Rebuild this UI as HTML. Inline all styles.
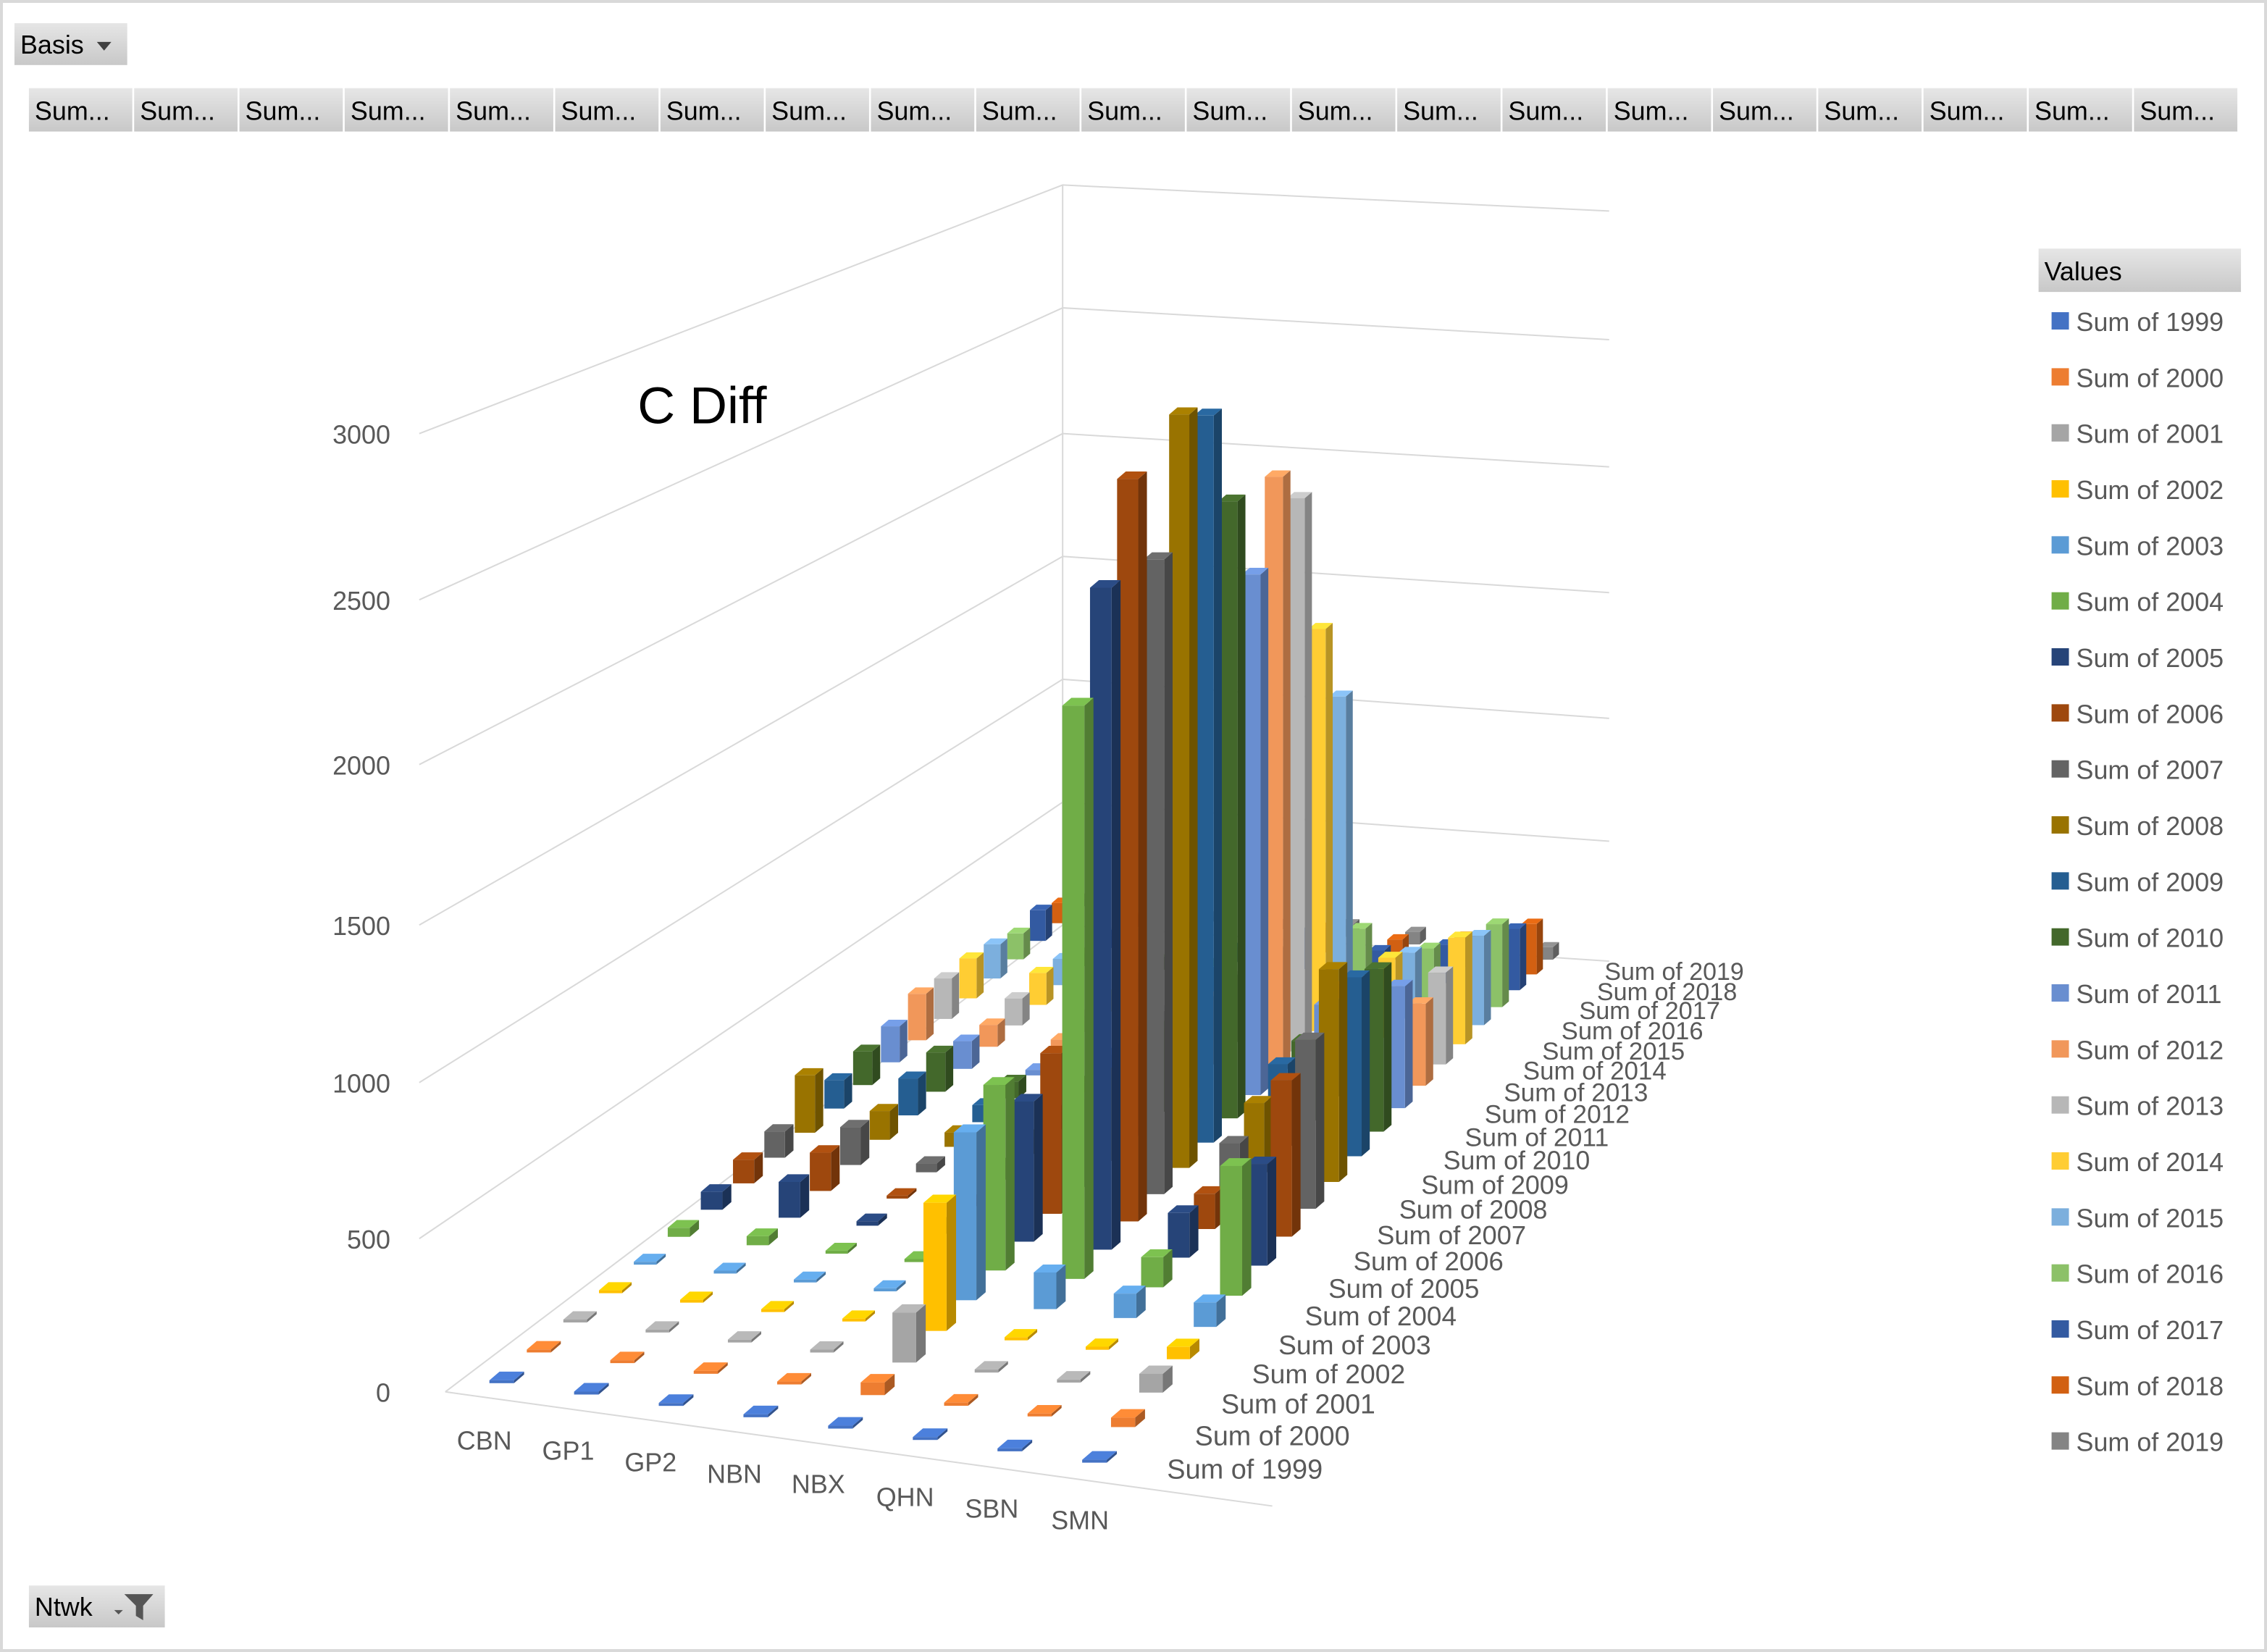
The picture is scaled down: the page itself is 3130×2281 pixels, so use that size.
<!DOCTYPE html>
<html><head><meta charset="utf-8"><style>
html,body{margin:0;padding:0;background:#fff;}
svg{display:block}
text{font-family:"Liberation Sans","DejaVu Sans",sans-serif;}
</style></head><body>
<svg id="s" width="3130" height="2281" viewBox="0 0 1568 1143" preserveAspectRatio="none" xmlns="http://www.w3.org/2000/svg">
<defs>
<linearGradient id="btn" x1="0" y1="0" x2="0" y2="1"><stop offset="0" stop-color="#e6e6e6"/><stop offset="1" stop-color="#c8c8c8"/></linearGradient>
</defs>
<rect x="0" y="0" width="1568" height="1143" fill="#fff"/>
<rect x="1" y="1" width="1566" height="1141" fill="none" stroke="#d9d9d9" stroke-width="2"/>
<g id="ui"></g>
<g id="grid" stroke="#d9d9d9" stroke-width="1" fill="none"></g>
<g id="bars"></g>
<g id="labels" fill="#595959" font-size="18"></g>
<text x="441" y="293" font-size="36" fill="#000">C Diff</text>
</svg>
<script>
var NS="http://www.w3.org/2000/svg";
function el(p,t,a,txt){var e=document.createElementNS(NS,t);for(var k in a)e.setAttribute(k,a[k]);if(txt!=null)e.textContent=txt;document.getElementById(p).appendChild(e);return e;}
el("ui","rect",{x:10,y:16,width:78,height:29,fill:"url(#btn)"});
el("ui","text",{x:14,y:37,"font-size":18,fill:"#000"},"Basis");
el("ui","path",{d:"M67 29 L77 29 L72 35 Z",fill:"#404040"});
for(var b=0;b<21;b++){var bx=20+b*72.8;el("ui","rect",{x:bx,y:61,width:71.5,height:30,fill:"url(#btn)"});el("ui","text",{x:bx+4,y:83,"font-size":18,fill:"#000"},"Sum...");}
el("ui","rect",{x:1410,y:172,width:140,height:30,fill:"url(#btn)"});
el("ui","text",{x:1414,y:194,"font-size":18,fill:"#000"},"Values");
var cols=["#4472C4","#ED7D31","#A5A5A5","#FFC000","#5B9BD5","#70AD47","#264478","#9E480E","#636363","#997300","#255E91","#43682B","#698ED0","#F1975A","#B7B7B7","#FFCD33","#7CAFDD","#8CC168","#335AA1","#D26012","#848484"];
for(var k=0;k<21;k++){var ly=222+k*38.75;el("ui","rect",{x:1419,y:ly-6,width:12,height:12,fill:cols[k]});el("ui","text",{x:1436,y:ly+7,"font-size":18,fill:"#595959"},"Sum of "+(1999+k));}
el("ui","rect",{x:20,y:1097,width:94,height:29,fill:"url(#btn)"});
el("ui","text",{x:24,y:1118,"font-size":18,fill:"#000"},"Ntwk");
el("ui","path",{d:"M86 1103 L106 1103 L99 1111 L99 1121 L94 1118 L94 1111 Z",fill:"#555"});
el("ui","path",{d:"M79 1114 L85 1114 L82 1117 Z",fill:"#555"});
var vals=[3000,2500,2000,1500,1000,500,0];
var ly0=[300,415,529,640,749,857,963];
var backL=[128,213,300,385,470,555,640];
var backR=[146,235,323,410,497,582,665];
for(var g=0;g<7;g++){
 el("grid","path",{d:"M"+(g==6?308:290)+" "+ly0[g]+" L735 "+backL[g]+" L1113 "+backR[g]});
 el("labels","text",{x:270,y:ly0[g]+7,"text-anchor":"end"},String(vals[g]));
}
el("grid","path",{d:"M735 128 L735 640"});
el("grid","path",{d:"M308 963 L880 1042"});
function cbn(j){return [347+26*j-0.3*j*j, 957-21.5*j+0.25*j*j];}
function smn(j){return [757+20*j-0.22*j*j, 1012-25*j+0.38*j*j];}
function pos(i,j){var a=cbn(j),b=smn(j),t=i/7;return [a[0]+(b[0]-a[0])*t,a[1]+(b[1]-a[1])*t];}
function sh(j){return 0.221-0.049*j/20;}
var D=[
[5,5,5,5,5,5,5,5],
[5,5,5,5,40,10,5,30],
[5,5,5,5,160,10,10,60],
[5,5,5,5,415,10,10,40],
[8,8,8,10,550,120,80,80],
[30,30,10,10,615,1900,100,430],
[60,120,15,30,470,2220,150,340],
[80,130,10,15,545,2520,120,530],
[90,130,30,50,300,2180,200,580],
[200,100,50,60,300,2620,250,740],
[100,130,60,60,300,2560,300,630],
[120,140,60,80,300,2200,300,580],
[130,100,20,100,300,1880,350,440],
[170,80,50,100,250,2180,350,300],
[150,100,60,100,250,2050,300,340],
[150,120,60,100,200,1510,300,400],
[130,100,50,100,200,1200,250,340],
[100,50,50,80,150,250,200,320],
[120,50,50,60,150,100,150,240],
[80,50,50,60,100,80,120,200],
[30,20,20,20,50,50,50,50]];
function shade(c,f){var n=parseInt(c.slice(1),16),r=n>>16,g=(n>>8)&255,b=n&255;
 r=Math.round(r*f);g=Math.round(g*f);b=Math.round(b*f);return "rgb("+Math.min(255,r)+","+Math.min(255,g)+","+Math.min(255,b)+")";}
for(var j=20;j>=0;j--){
 for(var i=7;i>=0;i--){
  var p=pos(i,j),v=D[j][i],h=Math.max(2,v*sh(j));
  var sc=1-0.4*j/20,w=17*sc,dx=7*sc,dy=6*sc;
  var x=p[0]-w/2,y=p[1],c=cols[j];
  el("bars","path",{d:"M"+(x+w)+" "+y+" L"+(x+w+dx)+" "+(y-dy)+" L"+(x+w+dx)+" "+(y-dy-h)+" L"+(x+w)+" "+(y-h)+"Z",fill:shade(c,0.72)});
  el("bars","path",{d:"M"+x+" "+(y-h)+" L"+(x+w)+" "+(y-h)+" L"+(x+w+dx)+" "+(y-h-dy)+" L"+(x+dx)+" "+(y-h-dy)+"Z",fill:shade(c,1.12)});
  el("bars","rect",{x:x,y:y-h,width:w,height:h,fill:c});
 }
}
var cat=[["CBN",335,1003],["GP1",393,1010],["GP2",450,1018],["NBN",508,1026],["NBX",566,1033],["QHN",626,1042],["SBN",686,1050],["SMN",747,1058]];
cat.forEach(function(c){el("labels","text",{x:c[1],y:c[2],"text-anchor":"middle"},c[0]);});
var sl=[[861,1017],[880,994],[898,972],[919,951],[937,931],[955,911],[971,892],[988,873],[1004,855],[1019,837],[1034,820],[1049,803],[1063,787],[1077,771],[1090,756],[1103,741],[1116,727],[1129,713],[1141,699],[1153,686],[1158,672]];
sl.forEach(function(s,k){el("labels","text",{x:s[0],y:s[1]+6,"text-anchor":"middle","font-size":19-2*k/20},"Sum of "+(1999+k));});
</script>
</body></html>
